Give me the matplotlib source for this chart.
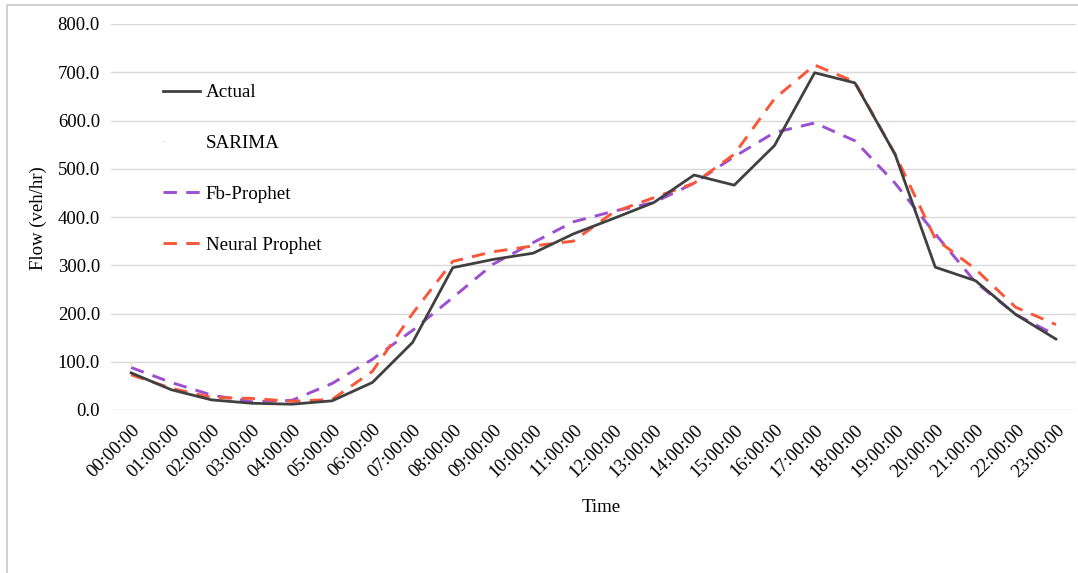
import numpy as np
import matplotlib.pyplot as plt
from matplotlib.patches import Rectangle

# Heures de la journée et débits (veh/hr)
heures = [f"{h:02d}:00:00" for h in range(24)]
actual = [77, 42, 21, 14, 12, 19, 57, 140, 295, 312, 325, 365, 397, 430, 487, 466,
          548, 699, 678, 530, 296, 268, 198, 147]
sarima = [95, 50, 25, 18, 16, 25, 65, 150, 290, 315, 330, 362, 395, 428, 480, 470,
          540, 690, 670, 525, 300, 270, 200, 150]
fb_prophet = [88, 57, 31, 17, 20, 55, 105, 165, 233, 302, 347, 390, 412, 430, 470, 525,
              575, 595, 558, 470, 365, 265, 198, 155]
neural_prophet = [73, 45, 26, 24, 18, 22, 80, 200, 308, 328, 340, 350, 410, 440, 470, 530,
                  645, 715, 680, 530, 355, 292, 213, 177]

plt.rcParams['font.family'] = ['Liberation Serif', 'DejaVu Serif']

fig = plt.figure(figsize=(10.78, 5.73), dpi=100)
ax = fig.add_axes([111 / 1078, 1 - 410 / 573, 965 / 1078, 386 / 573])

x = np.arange(len(heures))
ax.plot(x, actual, color='#404040', lw=2.0, label='Actual', zorder=5)
ax.plot(x, sarima, color='#ED7D31', lw=0.8, ls=(0, (0.6, 2000)), label='SARIMA', zorder=4)
ax.plot(x, fb_prophet, color='#9B4FD1', lw=2.1, ls=(0, (4.6, 3.2)), label='Fb-Prophet', zorder=3)
ax.plot(x, neural_prophet, color='#F95738', lw=2.1, ls=(0, (4.6, 3.2)), label='Neural Prophet', zorder=4)

# Axes style tableur : grille horizontale grise, pas de cadre
ax.set_xlim(-0.5, len(heures) - 0.5)
ax.set_ylim(0, 800)
ax.set_yticks(np.arange(0, 801, 100))
ax.set_yticklabels([f"{v:.1f}" for v in np.arange(0, 801, 100)], fontsize=13.5)
ax.set_xticks(x)
ax.set_xticklabels(heures, rotation=45, ha='right', rotation_mode='anchor', fontsize=13.5)
ax.tick_params(length=0, pad=8)
ax.grid(axis='y', color='#D9D9D9', lw=1)
ax.set_axisbelow(True)
for s in ax.spines.values():
    s.set_visible(False)

fig.text(601 / 1078, 1 - 507 / 573, 'Time', ha='center', va='center', fontsize=13.5)
fig.text(38 / 1078, 1 - 218 / 573, 'Flow (veh/hr)', ha='center', va='center',
         rotation=90, fontsize=13.5)

ax.legend(loc='upper left', bbox_to_anchor=(163 / 1078, 1 - 84 / 573),
          bbox_transform=fig.transFigure, frameon=False, fontsize=13.7,
          labelspacing=1.76, handlelength=1.95, handletextpad=0.3,
          borderpad=0, borderaxespad=0)

# Cadre de la zone graphique
fig.patches.append(Rectangle((7 / 1078, -0.01), 1.0, 1 - 5 / 573 + 0.01,
                             transform=fig.transFigure, fill=False,
                             edgecolor='#C8C8C8', lw=1.2))

fig.savefig('out.png', dpi=100)
